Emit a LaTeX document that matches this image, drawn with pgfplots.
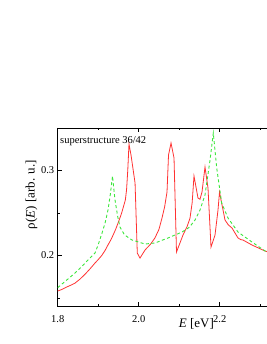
\documentclass[border=0pt]{standalone}
\usepackage{pgfplots}
\pgfplotsset{compat=1.18}
\usepackage{fontspec}
\setmainfont{Liberation Serif}
\definecolor{myred}{RGB}{255,50,50}
\definecolor{mygreen}{RGB}{60,230,60}
\begin{document}
\begin{tikzpicture}
\useasboundingbox (-57.7pt,-38pt) rectangle (208.3pt,306pt);
\begin{axis}[
  at={(0,0)}, anchor=south west,
  scale only axis, width=211.5pt, height=178pt,
  xmin=1.8, xmax=2.3222, ymin=0.1404, ymax=0.3498,
  xtick={1.8,2.0,2.2}, minor xtick={1.9,2.1,2.3},
  ytick={0.2,0.3}, minor ytick={0.15,0.25},
  xticklabels={1.8,2.0,2.2}, yticklabels={0.2,0.3},
  ytick pos=left,
  tick align=inside,
  major tick length=4.5pt, minor tick length=2.5pt,
  tick style={black, line width=0.6pt},
  axis line style={line width=0.7pt},
  ticklabel style={font=\fontsize{10.5}{12}\selectfont},
  xticklabel style={yshift=-6pt},
  xlabel={\textit{E} [eV]},
  ylabel={ρ(\textit{E}) [arb. u.]},
  label style={font=\fontsize{13}{15}\selectfont},
  xlabel style={at={(axis description cs:0.656,-0.118)}, anchor=base},
  ylabel style={at={(axis description cs:-0.1239,0.626)}, anchor=center},
]
\addplot[myred, line width=0.8pt] coordinates {
(1.800,0.158) (1.811,0.160) (1.821,0.1625) (1.832,0.1648) (1.843,0.1674) (1.855,0.172) (1.868,0.178) (1.880,0.1842) (1.892,0.1909)
(1.901,0.1955) (1.909,0.200) (1.917,0.2058) (1.924,0.2121) (1.931,0.218) (1.937,0.224) (1.943,0.2305) (1.949,0.2380) (1.954,0.2445) (1.958,0.250)
(1.961,0.255) (1.964,0.260) (1.967,0.2651) (1.970,0.277) (1.973,0.300) (1.976,0.331)
(1.981,0.318) (1.991,0.2851) (1.9965,0.2027) (2.0032,0.1968) (2.016,0.2065)
(2.029,0.213) (2.040,0.2204) (2.0500,0.2305) (2.0575,0.2439) (2.0640,0.257) (2.0699,0.2745) (2.0736,0.318) (2.0798,0.3321)
(2.0872,0.3145) (2.0933,0.2039) (2.1094,0.2239) (2.1200,0.2345) (2.1267,0.2439) (2.1320,0.262)
(2.1365,0.2933) (2.1464,0.2674) (2.1513,0.2660) (2.1563,0.2745) (2.1637,0.3039)
(2.1711,0.2792) (2.1785,0.2098) (2.1884,0.2239) (2.1958,0.2533) (2.1995,0.2745)
(2.2057,0.2592) (2.2131,0.2415) (2.2210,0.2360) (2.2304,0.2321) (2.2452,0.2204) (2.2520,0.2185) (2.2575,0.2180)
(2.2798,0.2121) (2.3119,0.2051) (2.3222,0.2035)
};
\addplot[mygreen, line width=0.9pt, dash pattern=on 3pt off 2.5pt] coordinates {
(1.800,0.162) (1.820,0.170) (1.8427,0.1792) (1.860,0.187) (1.8748,0.1945) (1.8921,0.2027) (1.900,0.2125) (1.9094,0.2262)
(1.917,0.238) (1.9242,0.2533) (1.930,0.272) (1.9353,0.2933) (1.9415,0.2651) (1.9480,0.246)
(1.9538,0.2333) (1.965,0.224) (1.9835,0.2180) (2.0156,0.2133) (2.0402,0.2145)
(2.0723,0.2204) (2.1069,0.2274) (2.1250,0.233) (2.1390,0.2415) (2.1511,0.253) (2.1637,0.271)
(2.1761,0.312) (2.1842,0.3439) (2.1926,0.3027) (2.2049,0.2615) (2.2205,0.2439)
(2.2452,0.2274) (2.2798,0.2156) (2.3119,0.2051) (2.3222,0.2025)
};
\node[anchor=base west, inner sep=0pt, font=\fontsize{10.5}{12}\selectfont]
  at (rel axis cs:0,1) [xshift=2.3pt, yshift=-15.3pt] {superstructure 36/42};
\end{axis}
\end{tikzpicture}
\end{document}
